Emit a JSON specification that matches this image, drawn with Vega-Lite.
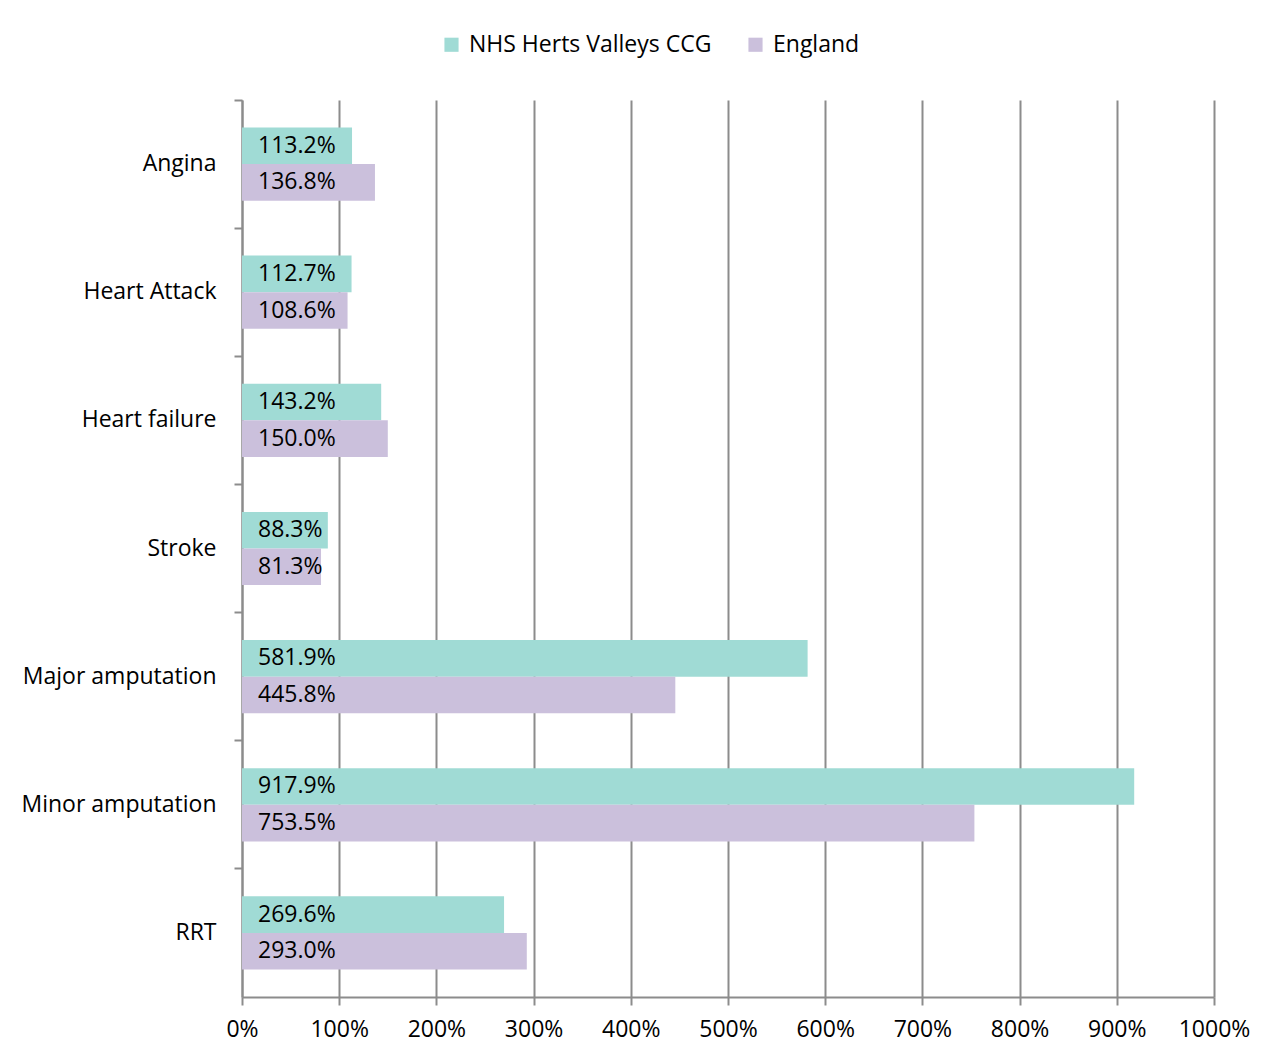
{
  "$schema": "https://vega.github.io/schema/vega-lite/v6.json",
  "width": 972,
  "height": 897,
  "autosize": {"type": "none"},
  "padding": {"left": 242, "top": 100, "right": 52, "bottom": 59},
  "background": "white",
  "config": {
    "font": "Open Sans",
    "view": {"stroke": null},
    "axis": {"labelFont": "Open Sans", "labelFontSize": 23, "labelColor": "#000000", "domainColor": "#8c8c8c", "tickColor": "#8c8c8c", "gridColor": "#8c8c8c", "domainWidth": 2, "tickWidth": 2, "gridWidth": 2, "tickSize": 8}
  },
  "data": {
    "values": [
      {"category": "Angina", "series": "NHS Herts Valleys CCG", "value": 1.132},
      {"category": "Angina", "series": "England", "value": 1.368},
      {"category": "Heart Attack", "series": "NHS Herts Valleys CCG", "value": 1.127},
      {"category": "Heart Attack", "series": "England", "value": 1.086},
      {"category": "Heart failure", "series": "NHS Herts Valleys CCG", "value": 1.432},
      {"category": "Heart failure", "series": "England", "value": 1.5},
      {"category": "Stroke", "series": "NHS Herts Valleys CCG", "value": 0.883},
      {"category": "Stroke", "series": "England", "value": 0.813},
      {"category": "Major amputation", "series": "NHS Herts Valleys CCG", "value": 5.819},
      {"category": "Major amputation", "series": "England", "value": 4.458},
      {"category": "Minor amputation", "series": "NHS Herts Valleys CCG", "value": 9.179},
      {"category": "Minor amputation", "series": "England", "value": 7.535},
      {"category": "RRT", "series": "NHS Herts Valleys CCG", "value": 2.696},
      {"category": "RRT", "series": "England", "value": 2.93}
    ]
  },
  "encoding": {
    "y": {
      "field": "category",
      "type": "nominal",
      "sort": ["Angina", "Heart Attack", "Heart failure", "Stroke", "Major amputation", "Minor amputation", "RRT"],
      "scale": {"paddingInner": 0, "paddingOuter": 0},
      "axis": {"title": null, "bandPosition": 0, "labelPadding": 18, "grid": false, "domain": true, "labelLimit": 0}
    },
    "yOffset": {
      "field": "series",
      "type": "nominal",
      "sort": ["NHS Herts Valleys CCG", "England"],
      "scale": {"paddingInner": 0, "paddingOuter": 0.75}
    }
  },
  "layer": [
    {
      "mark": {"type": "bar"},
      "encoding": {
        "x": {
          "field": "value",
          "type": "quantitative",
          "scale": {"domain": [0, 10], "nice": false},
          "axis": {"title": null, "format": ".0%", "values": [0,1,2,3,4,5,6,7,8,9,10], "grid": true, "labelPadding": 13, "labelFlush": false}
        },
        "color": {
          "field": "series",
          "type": "nominal",
          "sort": ["NHS Herts Valleys CCG", "England"],
          "scale": {"domain": ["NHS Herts Valleys CCG", "England"], "range": ["#a0dbd5", "#cbc0dc"]},
          "legend": {
            "title": null,
            "orient": "none",
            "legendX": 198,
            "legendY": -67,
            "direction": "horizontal",
            "symbolType": "square",
            "symbolSize": 200,
            "symbolStrokeWidth": 0,
            "labelFont": "Open Sans",
            "labelFontSize": 23,
            "labelColor": "#000000",
            "labelOffset": 6,
            "labelLimit": 0,
            "columnPadding": 32
          }
        }
      }
    },
    {
      "mark": {"type": "text", "align": "left", "baseline": "middle", "dx": 16, "fontSize": 23, "font": "Open Sans", "color": "#000000"},
      "encoding": {
        "x": {"datum": 0, "type": "quantitative"},
        "text": {"field": "value", "type": "quantitative", "format": ".1%"}
      }
    }
  ]
}
